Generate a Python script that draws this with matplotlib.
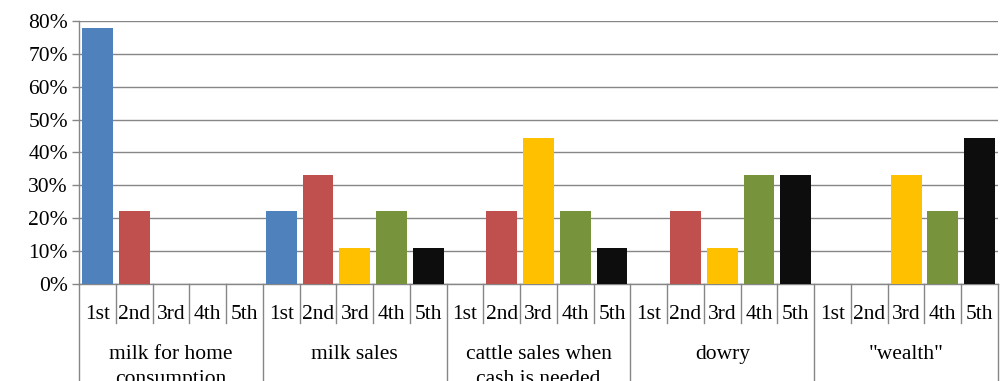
import numpy as np
import matplotlib.pyplot as plt
from matplotlib.transforms import blended_transform_factory

plt.rcParams['font.family'] = ['Liberation Serif', 'DejaVu Serif']

# data (share of respondents ranking each use, %)
groups = ['milk for home\nconsumption', 'milk sales', 'cattle sales when\ncash is needed',
          'dowry', '"wealth"']
ranks = ['1st', '2nd', '3rd', '4th', '5th']
rank_colors = ['#4F81BD', '#C0504D', '#FFC000', '#77933C', '#0D0D0D']
values = [
    [77.8, 22.2, 0, 0, 0],
    [22.2, 33.3, 11.1, 22.2, 11.1],
    [0, 22.2, 44.4, 22.2, 11.1],
    [0, 22.2, 11.1, 33.3, 33.3],
    [0, 0, 33.3, 22.2, 44.4],
]
yticks = [0, 10, 20, 30, 40, 50, 60, 70, 80]

fig = plt.figure(figsize=(10.05, 3.81), dpi=100)
ax = fig.add_axes([79 / 1005, 97 / 381, 919 / 1005, 263 / 381])

gray = '#868686'
n_rank = len(ranks)
for g, vals in enumerate(values):
    for r, v in enumerate(vals):
        x = g * n_rank + r
        if v > 0:
            ax.bar(x, v, width=0.84, color=rank_colors[r], zorder=3)

ncat = len(groups) * n_rank
ax.set_xlim(-0.5, ncat - 0.5)
ax.set_ylim(0, 80)
ax.set_yticks(yticks)
ax.set_yticklabels([f'{t}%' for t in yticks], fontsize=15.5)
ax.yaxis.grid(True, color=gray, linewidth=1.0, zorder=0)
ax.set_xticks([])
for s in ['top', 'right']:
    ax.spines[s].set_visible(False)
ax.spines['left'].set_color(gray)
ax.spines['bottom'].set_color(gray)
ax.spines['left'].set_linewidth(1.0)
ax.spines['bottom'].set_linewidth(1.0)
ax.tick_params(axis='y', length=5, width=1.0, color=gray, pad=3)

trans = blended_transform_factory(ax.transData, ax.transAxes)
for b in range(ncat + 1):
    xb = b - 0.5
    bottom = -0.37 if b % n_rank == 0 else -0.148
    ax.plot([xb, xb], [0, bottom], color=gray, linewidth=1.0,
            transform=trans, clip_on=False)

for g, name in enumerate(groups):
    for r, lab in enumerate(ranks):
        ax.text(g * n_rank + r, -0.115, lab, transform=trans, ha='center',
                va='center', fontsize=15.5)
    ax.text(g * n_rank + 2, -0.232, name, transform=trans, ha='center',
            va='top', fontsize=15.5, linespacing=1.45)

fig.savefig('out.png', dpi=100)
